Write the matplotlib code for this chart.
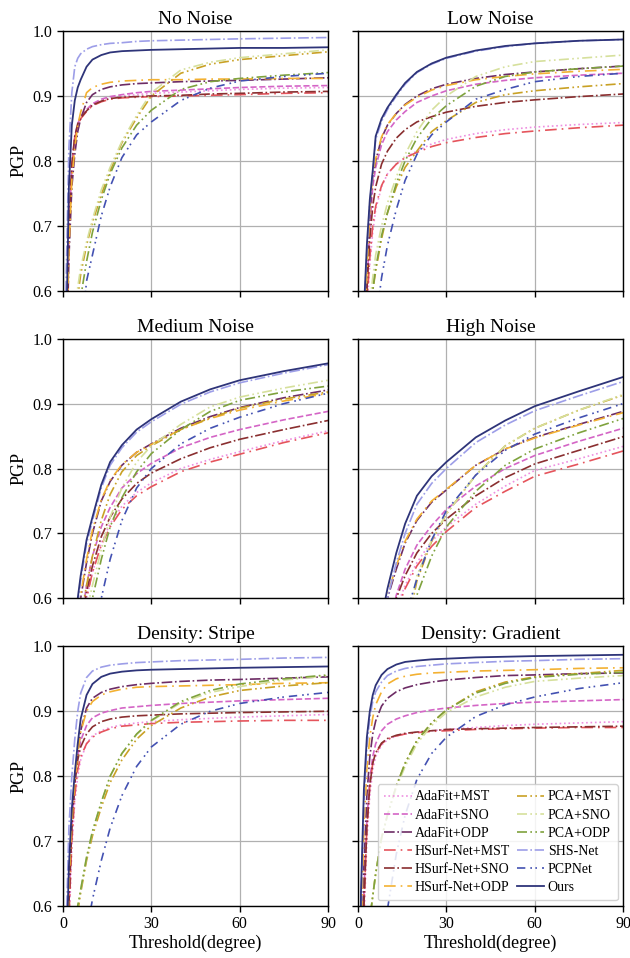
import numpy as np
import matplotlib
matplotlib.use("Agg")
import matplotlib.pyplot as plt

plt.rcParams['font.family'] = ['Liberation Serif', 'DejaVu Serif']

# thresholds (degrees) at which PGP was sampled
thresholds = [0, 1, 2, 3, 4, 5, 6, 8, 10, 13, 16, 20, 25, 30, 40, 50, 60, 75, 90]

methods = ['AdaFit+MST', 'AdaFit+SNO', 'AdaFit+ODP',
           'HSurf-Net+MST', 'HSurf-Net+SNO', 'HSurf-Net+ODP',
           'PCA+MST', 'PCA+SNO', 'PCA+ODP',
           'SHS-Net', 'PCPNet', 'Ours']

no_noise = {
    'AdaFit+MST':    [0, .45, .69, .79, .835, .855, .866, .877, .886, .893, .897, .900, .902, .904, .906, .908, .910, .912, .913],
    'AdaFit+SNO':    [0, .45, .69, .79, .837, .857, .868, .879, .888, .895, .899, .902, .905, .907, .909, .911, .913, .915, .916],
    'AdaFit+ODP':    [0, .45, .65, .76, .81, .845, .865, .89, .902, .91, .914, .917, .919, .920, .922, .923, .924, .926, .928],
    'HSurf-Net+MST': [0, .45, .69, .79, .835, .855, .865, .876, .885, .891, .895, .897, .898, .899, .900, .901, .902, .904, .905],
    'HSurf-Net+SNO': [0, .45, .70, .795, .838, .857, .866, .877, .886, .892, .896, .898, .899, .900, .901, .903, .904, .906, .907],
    'HSurf-Net+ODP': [0, .45, .66, .77, .82, .855, .875, .905, .913, .918, .921, .923, .924, .925, .925, .926, .926, .927, .927],
    'PCA+MST':       [0, .15, .30, .42, .52, .59, .625, .67, .705, .748, .785, .828, .866, .900, .935, .949, .956, .962, .968],
    'PCA+SNO':       [0, .15, .30, .42, .53, .605, .635, .675, .71, .755, .79, .83, .87, .905, .94, .952, .959, .965, .971],
    'PCA+ODP':       [0, .10, .22, .33, .43, .51, .59, .645, .69, .74, .78, .82, .855, .878, .91, .922, .927, .932, .936],
    'SHS-Net':       [0, .60, .82, .905, .945, .958, .965, .972, .976, .979, .981, .982, .984, .985, .986, .987, .988, .989, .990],
    'PCPNet':        [0, .08, .18, .28, .37, .45, .52, .615, .655, .715, .76, .805, .84, .86, .893, .912, .923, .930, .935],
    'Ours':          [0, .50, .76, .855, .893, .913, .925, .945, .956, .963, .967, .969, .970, .971, .972, .973, .974, .974, .975],
}

low_noise = {
    'AdaFit+MST':    [0, .30, .45, .57, .64, .69, .725, .76, .78, .795, .805, .815, .826, .833, .842, .848, .852, .856, .859],
    'AdaFit+SNO':    [0, .30, .48, .60, .70, .76, .79, .825, .845, .863, .876, .89, .90, .908, .918, .924, .928, .932, .935],
    'AdaFit+ODP':    [0, .30, .50, .62, .72, .775, .80, .835, .855, .873, .887, .90, .911, .918, .927, .933, .937, .942, .946],
    'HSurf-Net+MST': [0, .30, .46, .58, .65, .70, .73, .762, .78, .795, .805, .813, .822, .828, .836, .842, .846, .851, .855],
    'HSurf-Net+SNO': [0, .30, .45, .60, .68, .73, .76, .795, .815, .835, .848, .86, .868, .875, .884, .89, .894, .899, .903],
    'HSurf-Net+ODP': [0, .30, .50, .625, .725, .778, .803, .837, .856, .873, .886, .898, .909, .916, .925, .93, .934, .938, .941],
    'PCA+MST':       [0, .20, .35, .45, .53, .60, .63, .68, .72, .76, .79, .815, .845, .862, .89, .902, .908, .914, .919],
    'PCA+SNO':       [0, .20, .37, .48, .58, .62, .655, .70, .735, .775, .81, .845, .878, .90, .93, .945, .953, .958, .963],
    'PCA+ODP':       [0, .20, .35, .46, .55, .60, .635, .685, .72, .765, .80, .835, .865, .885, .915, .93, .937, .942, .946],
    'SHS-Net':       [0, .29, .56, .66, .735, .78, .833, .861, .879, .9, .918, .936, .949, .958, .969, .976, .981, .985, .987],
    'PCPNet':        [0, .15, .28, .38, .45, .50, .55, .62, .67, .725, .77, .81, .84, .86, .895, .91, .922, .93, .935],
    'Ours':          [0, .30, .57, .67, .74, .785, .838, .865, .882, .902, .92, .937, .95, .959, .97, .977, .981, .985, .987],
}

medium_noise = {
    'AdaFit+MST':    [0, .10, .20, .30, .40, .47, .53, .60, .64, .685, .715, .742, .763, .778, .80, .814, .826, .843, .858],
    'AdaFit+SNO':    [0, .10, .22, .33, .42, .50, .56, .62, .665, .71, .74, .77, .792, .808, .832, .848, .86, .875, .888],
    'AdaFit+ODP':    [0, .12, .25, .36, .46, .56, .60, .655, .70, .75, .78, .805, .825, .838, .862, .88, .894, .909, .921],
    'HSurf-Net+MST': [0, .10, .20, .30, .40, .47, .53, .60, .64, .682, .71, .737, .758, .772, .795, .81, .822, .84, .855],
    'HSurf-Net+SNO': [0, .10, .21, .32, .41, .49, .55, .61, .65, .695, .725, .753, .777, .793, .815, .832, .845, .86, .874],
    'HSurf-Net+ODP': [0, .12, .25, .36, .46, .56, .605, .66, .705, .752, .782, .806, .825, .837, .86, .877, .89, .904, .916],
    'PCA+MST':       [0, .10, .20, .30, .40, .50, .57, .62, .665, .72, .76, .795, .82, .835, .86, .878, .893, .907, .918],
    'PCA+SNO':       [0, .08, .16, .25, .34, .42, .49, .58, .62, .675, .725, .77, .81, .835, .868, .895, .91, .924, .936],
    'PCA+ODP':       [0, .07, .15, .23, .31, .38, .45, .56, .60, .66, .71, .755, .795, .823, .86, .888, .905, .918, .927],
    'SHS-Net':       [0, .14, .29, .41, .54, .59, .628, .684, .72, .77, .805, .832, .856, .872, .899, .918, .932, .947, .960],
    'PCPNet':        [0, .05, .10, .16, .22, .28, .34, .44, .51, .60, .66, .72, .77, .80, .838, .862, .879, .90, .916],
    'Ours':          [0, .15, .30, .42, .55, .60, .635, .69, .725, .775, .81, .836, .86, .876, .903, .922, .936, .95, .962],
}

high_noise = {
    'AdaFit+MST':    [0, .05, .10, .16, .22, .28, .34, .44, .53, .585, .62, .655, .688, .71, .745, .773, .797, .815, .834],
    'AdaFit+SNO':    [0, .05, .10, .16, .22, .28, .35, .46, .54, .605, .645, .682, .712, .737, .773, .80, .82, .842, .862],
    'AdaFit+ODP':    [0, .06, .12, .19, .26, .33, .40, .52, .60, .645, .685, .72, .748, .767, .805, .83, .848, .868, .888],
    'HSurf-Net+MST': [0, .05, .10, .16, .22, .28, .34, .44, .52, .58, .615, .65, .68, .703, .74, .765, .788, .807, .827],
    'HSurf-Net+SNO': [0, .05, .10, .16, .22, .28, .35, .46, .54, .60, .635, .67, .70, .722, .758, .786, .807, .828, .849],
    'HSurf-Net+ODP': [0, .06, .12, .19, .26, .33, .41, .53, .605, .65, .688, .722, .75, .768, .805, .83, .847, .867, .886],
    'PCA+MST':       [0, .03, .06, .10, .14, .18, .22, .30, .37, .46, .54, .627, .688, .73, .79, .835, .862, .89, .913],
    'PCA+SNO':       [0, .03, .06, .10, .14, .18, .22, .30, .37, .46, .54, .635, .69, .73, .79, .835, .862, .89, .914],
    'PCA+ODP':       [0, .02, .05, .08, .12, .16, .20, .28, .35, .43, .50, .605, .665, .71, .765, .805, .83, .855, .877],
    'SHS-Net':       [0, .06, .12, .20, .28, .35, .42, .55, .60, .655, .70, .745, .777, .80, .84, .867, .889, .912, .934],
    'PCPNet':        [0, .03, .06, .10, .14, .18, .22, .30, .38, .48, .57, .63, .69, .735, .79, .828, .853, .878, .90],
    'Ours':          [0, .07, .14, .22, .30, .37, .44, .57, .615, .67, .715, .758, .788, .81, .848, .874, .896, .919, .941],
}

density_stripe = {
    'AdaFit+MST':    [0, .35, .56, .69, .76, .80, .825, .85, .862, .87, .875, .879, .882, .884, .887, .889, .891, .893, .895],
    'AdaFit+SNO':    [0, .40, .60, .72, .79, .83, .855, .878, .89, .897, .901, .905, .907, .909, .912, .914, .916, .918, .92],
    'AdaFit+ODP':    [0, .45, .63, .73, .79, .835, .87, .905, .92, .929, .934, .938, .941, .943, .946, .948, .949, .951, .953],
    'HSurf-Net+MST': [0, .38, .58, .70, .77, .81, .83, .85, .86, .868, .873, .877, .879, .881, .883, .884, .885, .886, .886],
    'HSurf-Net+SNO': [0, .40, .60, .72, .79, .825, .845, .865, .876, .884, .888, .891, .893, .894, .896, .897, .898, .899, .90],
    'HSurf-Net+ODP': [0, .45, .63, .73, .79, .835, .868, .90, .915, .925, .93, .934, .937, .938, .939, .94, .941, .943, .944],
    'PCA+MST':       [0, .20, .35, .45, .55, .59, .62, .67, .708, .752, .79, .825, .857, .878, .905, .922, .932, .939, .944],
    'PCA+SNO':       [0, .20, .35, .46, .56, .60, .625, .675, .715, .76, .80, .835, .864, .885, .913, .929, .938, .948, .955],
    'PCA+ODP':       [0, .20, .35, .46, .56, .60, .625, .675, .715, .76, .80, .835, .865, .886, .915, .932, .942, .95, .956],
    'SHS-Net':       [0, .55, .72, .80, .857, .90, .928, .952, .962, .968, .971, .973, .975, .976, .978, .979, .98, .982, .983],
    'PCPNet':        [0, .10, .20, .30, .38, .44, .49, .56, .61, .67, .72, .77, .815, .845, .88, .90, .912, .922, .929],
    'Ours':          [0, .50, .66, .75, .805, .85, .888, .925, .942, .953, .958, .961, .963, .964, .965, .966, .967, .968, .969],
}

density_gradient = {
    'AdaFit+MST':    [0, .35, .57, .70, .77, .81, .83, .848, .856, .862, .865, .868, .87, .872, .875, .878, .88, .882, .884],
    'AdaFit+SNO':    [0, .42, .62, .73, .795, .83, .85, .87, .88, .888, .893, .898, .902, .905, .909, .912, .914, .916, .918],
    'AdaFit+ODP':    [0, .45, .66, .77, .83, .865, .885, .908, .92, .93, .936, .941, .945, .948, .952, .955, .956, .958, .959],
    'HSurf-Net+MST': [0, .38, .60, .72, .785, .82, .835, .85, .857, .862, .865, .867, .869, .87, .872, .873, .874, .875, .875],
    'HSurf-Net+SNO': [0, .38, .60, .72, .785, .82, .836, .851, .858, .863, .866, .868, .87, .872, .873, .874, .875, .876, .877],
    'HSurf-Net+ODP': [0, .55, .72, .81, .86, .89, .91, .93, .942, .95, .954, .957, .959, .96, .962, .963, .964, .966, .967],
    'PCA+MST':       [0, .20, .35, .45, .58, .615, .65, .705, .74, .785, .82, .855, .882, .902, .93, .945, .953, .958, .963],
    'PCA+SNO':       [0, .20, .35, .45, .58, .615, .65, .705, .74, .782, .815, .85, .878, .898, .922, .937, .946, .951, .955],
    'PCA+ODP':       [0, .20, .35, .45, .58, .615, .65, .705, .74, .785, .82, .855, .882, .902, .928, .943, .952, .957, .96],
    'SHS-Net':       [0, .60, .76, .845, .89, .915, .93, .945, .955, .962, .966, .969, .971, .973, .975, .977, .978, .98, .981],
    'PCPNet':        [0, .10, .20, .28, .35, .41, .46, .53, .595, .68, .74, .795, .835, .86, .892, .91, .922, .935, .944],
    'Ours':          [0, .62, .78, .86, .90, .925, .94, .956, .965, .972, .976, .978, .98, .981, .983, .984, .985, .986, .987],
}

panels = [('No Noise', no_noise), ('Low Noise', low_noise),
          ('Medium Noise', medium_noise), ('High Noise', high_noise),
          ('Density: Stripe', density_stripe), ('Density: Gradient', density_gradient)]

# line colour / dash pattern for each method
dash_dot_long = (0, (7, 3, 1, 3))
dash_dot_dot = (0, (6, 2, 1, 2, 1, 2))
styles = {
    'AdaFit+MST':    ('#ee8fe0', ':'),
    'AdaFit+SNO':    ('#d465c6', '--'),
    'AdaFit+ODP':    ('#6d2c65', '-.'),
    'HSurf-Net+MST': ('#e5545c', dash_dot_long),
    'HSurf-Net+SNO': ('#8a2f30', '-.'),
    'HSurf-Net+ODP': ('#f3b132', dash_dot_long),
    'PCA+MST':       ('#c9a125', dash_dot_dot),
    'PCA+SNO':       ('#d6e09c', dash_dot_dot),
    'PCA+ODP':       ('#7fa23d', dash_dot_dot),
    'SHS-Net':       ('#9d9ee8', '-.'),
    'PCPNet':        ('#4351b2', (0, (5, 3, 1, 2, 1, 3))),
    'Ours':          ('#2e3479', '-'),
}

fig, axes = plt.subplots(3, 2, figsize=(6.3, 9.58), dpi=100, sharex=True, sharey=True)
fig.subplots_adjust(left=0.1, right=0.989, top=0.9676, bottom=0.0543,
                    wspace=0.113, hspace=0.185)

for ax, (title, data) in zip(axes.flat, panels):
    for m in methods:
        color, ls = styles[m]
        lw = 1.3 if m == 'Ours' else 1.2
        ax.plot(thresholds, data[m], color=color, linestyle=ls, linewidth=lw, label=m)
    ax.set_title(title, fontsize=14, pad=5)
    ax.set_xlim(0, 90)
    ax.set_ylim(0.6, 1.0)
    ax.set_xticks([0, 30, 60, 90])
    ax.set_yticks([0.6, 0.7, 0.8, 0.9, 1.0])
    ax.grid(True, color='#b0b0b0', linewidth=0.9)
    ax.set_axisbelow(True)
    ax.tick_params(labelsize=11.5, length=4, width=1)
    for sp in ax.spines.values():
        sp.set_linewidth(1.0)

for ax in axes[:, 0]:
    ax.set_ylabel('PGP', fontsize=13)
for ax in axes[-1, :]:
    ax.set_xlabel('Threshold(degree)', fontsize=13, labelpad=2)

axes[-1, 1].legend(loc='lower right', ncol=2, fontsize=10, handlelength=2.0,
                   handletextpad=0.25, columnspacing=0.45, labelspacing=0.37,
                   borderpad=0.45, borderaxespad=0.4, framealpha=0.85)

fig.savefig('out.png', dpi=100)
